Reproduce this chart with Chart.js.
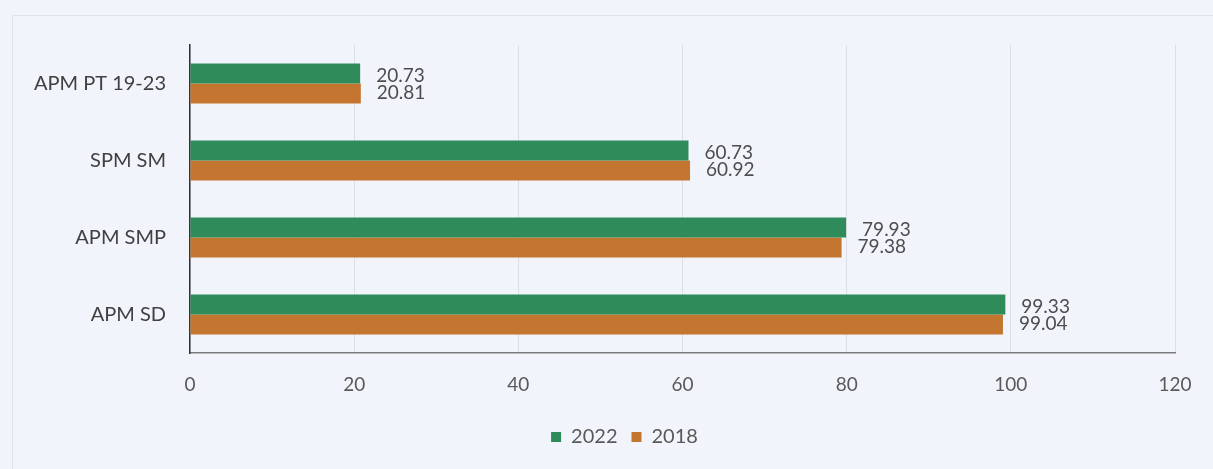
<!DOCTYPE html>
<html>
<head>
<meta charset="utf-8">
<script src="https://cdn.jsdelivr.net/npm/chart.js@4/dist/chart.umd.min.js"></script>
<style>
  html, body { margin: 0; padding: 0; background: #f1f4fb; }
  #wrap { position: relative; width: 1213px; height: 469px; }
  #frame { position: absolute; left: 12px; top: 15px; right: -2px; bottom: -2px; border: 1px solid #dfe3ea; }
  canvas { position: absolute; left: 0; top: 0; }
</style>
</head>
<body>
<div id="wrap">
  <div id="frame"></div>
  <canvas id="chart" width="1213" height="469"></canvas>
</div>
<script>
const categories = ['APM PT 19-23', 'SPM SM', 'APM SMP', 'APM SD'];
const values2022 = [20.73, 60.73, 79.93, 99.33];
const values2018 = [20.81, 60.92, 79.38, 99.04];
const xTicks = [0, 20, 40, 60, 80, 100, 120];

const GREEN = '#2f8b59';
const ORANGE = '#c4752f';
const FONT = 'Lato, "Open Sans", sans-serif';

// value labels to the right of each bar
const valueLabels = {
  id: 'valueLabels',
  afterLayout(chart) {
    // legend sits a bit right of the canvas centre in the original
    chart.legend.left += 37;
    chart.legend.right += 37;
  },
  afterDatasetsDraw(chart) {
    const ctx = chart.ctx;
    ctx.save();
    ctx.font = '19px ' + FONT;
    ctx.fillStyle = '#4d4d4d';
    ctx.textAlign = 'left';
    ctx.textBaseline = 'middle';
    chart.data.datasets.forEach((ds, i) => {
      chart.getDatasetMeta(i).data.forEach((bar, j) => {
        const dy = i === 0 ? 2 : -1;
        ctx.fillText(ds.data[j].toFixed(2), bar.x + 16, bar.y + dy);
      });
    });
    ctx.restore();
  }
};

new Chart(document.getElementById('chart'), {
  type: 'bar',
  data: {
    labels: categories,
    datasets: [
      { label: '2022', data: values2022, backgroundColor: GREEN },
      { label: '2018', data: values2018, backgroundColor: ORANGE }
    ]
  },
  options: {
    indexAxis: 'y',
    responsive: false,
    animation: false,
    categoryPercentage: 0.52,
    barPercentage: 1.0,
    layout: { padding: { left: 0, right: 38, top: 45, bottom: 12 } },
    plugins: {
      legend: {
        position: 'bottom',
        labels: {
          boxWidth: 10, boxHeight: 10, padding: 14,
          color: '#595959',
          font: { family: FONT, size: 20 }
        }
      },
      tooltip: { enabled: false }
    },
    scales: {
      x: {
        min: 0, max: 120,
        afterBuildTicks: s => { s.ticks = xTicks.map(v => ({ value: v })); },
        afterFit: s => { s.height = 60; },
        grid: { color: '#dcdfe5', drawTicks: false },
        border: { color: '#7a7a7a', width: 1.5 },
        ticks: {
          padding: 20,
          color: '#595959',
          font: { family: FONT, size: 19 }
        }
      },
      y: {
        afterFit: s => { s.width = 190; },
        grid: { display: false, drawTicks: false },
        border: { color: '#333333', width: 1.5 },
        ticks: {
          padding: 24,
          color: '#404040',
          font: { family: FONT, size: 20 }
        }
      }
    }
  },
  plugins: [valueLabels]
});
</script>
</body>
</html>
